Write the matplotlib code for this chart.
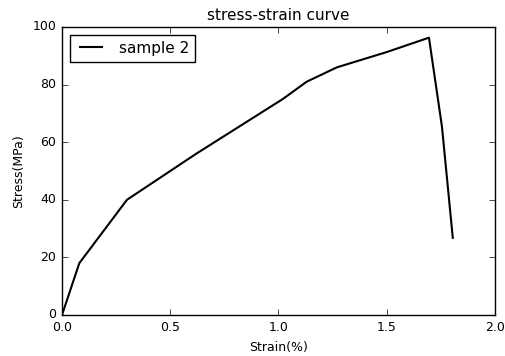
import matplotlib
matplotlib.use("Agg")
import matplotlib.pyplot as plt

strain = [0.0, 0.08, 0.30, 0.62, 1.02, 1.13, 1.27, 1.50, 1.695, 1.755, 1.805]
stress = [0.0, 18.0, 40.0, 56.0, 75.0, 81.0, 86.0, 91.3, 96.3, 65.4, 26.8]

plt.style.use('classic')
plt.rcParams['font.size'] = 9

fig = plt.figure(figsize=(5.06, 3.56), dpi=100)
ax = fig.add_axes([62/506, 1 - 315/356, (495-62)/506, (315-27)/356])
ax.plot(strain, stress, color='black', lw=1.5, label='sample 2')
ax.set_xlim(0, 2.0)
ax.set_ylim(0, 100)
ax.set_xticks([0.0, 0.5, 1.0, 1.5, 2.0])
ax.set_yticks([0, 20, 40, 60, 80, 100])
ax.tick_params(labelsize=9)
ax.set_title('stress-strain curve', fontsize=11)
ax.set_xlabel('Strain(%)', fontsize=9)
ax.set_ylabel('Stress(MPa)', fontsize=9)
ax.legend(loc='upper left', fontsize=11)
fig.savefig('out.png', dpi=100, facecolor='white')
